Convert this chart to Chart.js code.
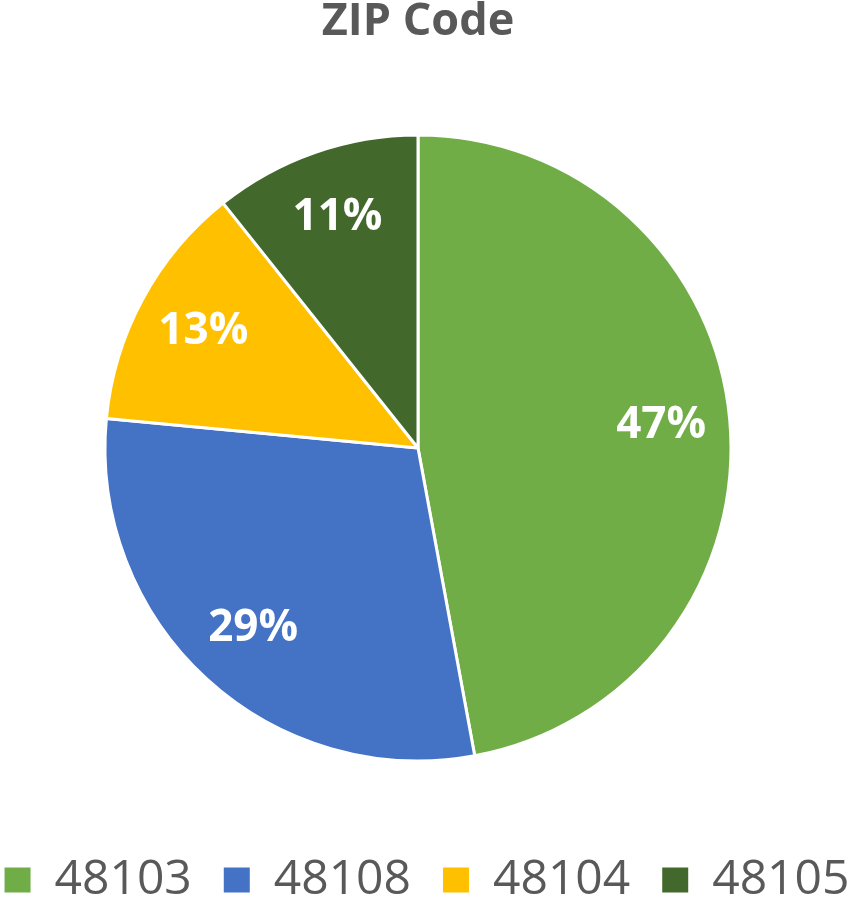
<!DOCTYPE html>
<html>
<head>
<meta charset="utf-8">
<script src="https://cdn.jsdelivr.net/npm/chart.js@4/dist/chart.umd.min.js"></script>
<style>
  html, body { margin: 0; padding: 0; background: #ffffff; }
  #wrap { width: 854px; height: 902px; }
</style>
</head>
<body>
<div id="wrap"><canvas id="c" width="854" height="902"></canvas></div>
<script>
const categories = ['48103', '48108', '48104', '48105'];
const shares = [47.1, 29.4, 12.8, 10.7];
const sliceColors = ['#70AD47', '#4472C4', '#FFC000', '#43682B'];
const chartTitle = 'ZIP Code';

const pieLabels = {
  id: 'pieLabels',
  afterDatasetsDraw(chart) {
    const ctx = chart.ctx;
    const meta = chart.getDatasetMeta(0);
    const data = chart.data.datasets[0].data;
    const total = data.reduce((a, b) => a + b, 0);
    ctx.save();
    ctx.fillStyle = '#ffffff';
    ctx.font = 'bold 44px "Open Sans"';
    ctx.textAlign = 'center';
    ctx.textBaseline = 'middle';
    meta.data.forEach((arc, i) => {
      const p = arc.getProps(['x', 'y', 'startAngle', 'endAngle', 'outerRadius'], true);
      const mid = (p.startAngle + p.endAngle) / 2;
      const r = p.outerRadius * 0.78;
      const x = p.x + Math.cos(mid) * r;
      const y = p.y + Math.sin(mid) * r;
      ctx.fillText(Math.round(data[i] / total * 100) + '%', x, y);
    });
    ctx.restore();
  }
};

new Chart(document.getElementById('c'), {
  type: 'pie',
  data: {
    labels: categories,
    datasets: [{
      data: shares,
      backgroundColor: sliceColors,
      borderColor: '#ffffff',
      borderWidth: 3,
      radius: 313
    }]
  },
  options: {
    responsive: false,
    animation: false,
    layout: { padding: { left: -31, right: -31, top: 0, bottom: -12 } },
    scales: {
      spacer: {
        type: 'linear',
        position: 'right',
        display: true,
        grid: { display: false },
        ticks: { display: false },
        border: { display: false },
        afterFit: (s) => { s.width = 49; }
      }
    },
    plugins: {
      tooltip: { enabled: false },
      title: {
        display: true,
        fullSize: false,
        text: chartTitle,
        color: '#595959',
        font: { family: 'Open Sans', size: 45, weight: 'bold', lineHeight: 1.0 },
        padding: { top: 0, bottom: 27 }
      },
      legend: {
        position: 'bottom',
        labels: {
          color: '#595959',
          font: { family: 'Open Sans', size: 48 },
          boxWidth: 26,
          boxHeight: 25,
          padding: 32,
          generateLabels(chart) {
            const items = Chart.overrides.pie.plugins.legend.labels.generateLabels(chart);
            items.forEach((it) => { it.lineWidth = 0; it.strokeStyle = 'rgba(0,0,0,0)'; });
            return items;
          }
        }
      }
    }
  },
  plugins: [pieLabels]
});
</script>
</body>
</html>
